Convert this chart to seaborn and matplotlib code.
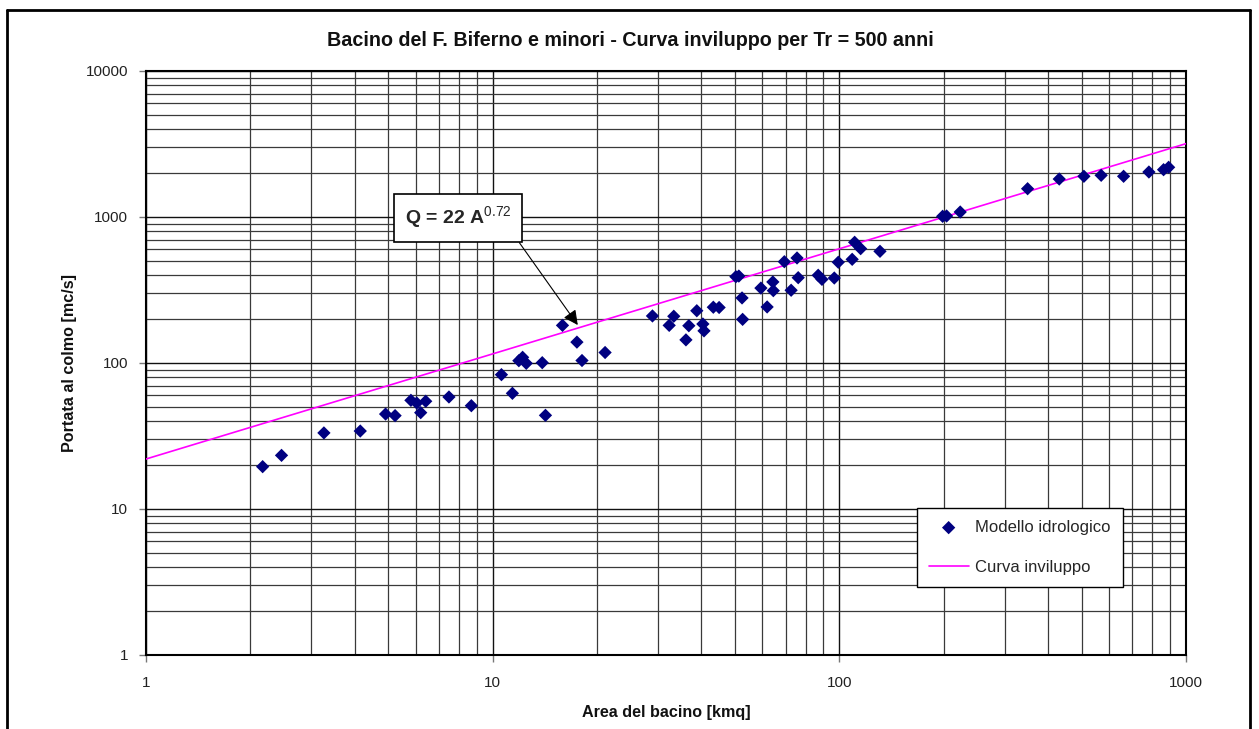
import numpy as np
import pandas as pd
import matplotlib
matplotlib.use("Agg")
import matplotlib.pyplot as plt
from matplotlib.lines import Line2D
from matplotlib.ticker import LogLocator, FixedLocator, FixedFormatter, NullFormatter
import seaborn as sns

# Basin areas [kmq] and simulated peak discharges [mc/s]
area = [2.17, 2.46, 3.26, 4.15, 4.91, 5.23, 5.81, 6.04, 6.20, 6.41, 7.48, 8.68,
        10.6, 11.4, 11.9, 12.2, 12.5, 13.9, 14.2, 15.9, 17.5, 18.1, 21.1,
        28.9, 32.3, 33.3, 36.1, 36.8, 38.8, 40.4, 40.7, 43.3, 45.0, 50.3, 51.3,
        52.4, 52.6, 59.4, 61.9, 64.3, 64.5, 69.4, 72.6, 75.5, 76.1, 86.9, 89.1,
        96.7, 99.3, 108.9, 110.7, 115.2, 131.0,
        198.6, 203.9, 223.2, 349.2, 430.9, 507.6, 569.2, 660.7, 781.6, 861.6, 891.1]
discharge = [19.5, 23.3, 33.2, 34.2, 44.7, 43.6, 55.5, 53.2, 45.7, 54.7, 58.5, 51.0,
             83.2, 62.0, 103.7, 109.4, 99.5, 100.5, 43.8, 181, 139, 104, 118,
             210, 181, 209, 144, 180, 228, 185, 166, 241, 240, 390, 394,
             279, 199, 326, 242, 359, 313, 494, 315, 524, 384, 399, 374,
             382, 490, 513, 671, 607, 582,
             1011, 1016, 1082, 1562, 1820, 1900, 1930, 1900, 2033, 2109, 2190]

# Envelope curve Q = 22 A^0.72
env_coef = 22
env_exp = 0.72
env_area = [1, 1000]

x_ticks = [1, 10, 100, 1000]
x_ticklabels = ["1", "10", "100", "1000"]
y_ticks = [1, 10, 100, 1000, 10000]
y_ticklabels = ["1", "10", "100", "1000", "10000"]

sns.set_theme(style="white")
plt.rcParams["font.family"] = ["Liberation Sans", "DejaVu Sans"]
plt.rcParams["mathtext.fontset"] = "custom"
plt.rcParams["mathtext.rm"] = "Liberation Sans"
plt.rcParams["mathtext.bf"] = "Liberation Sans:bold"

fig = plt.figure(figsize=(12.59, 7.29), dpi=100)
ax = fig.add_axes([146 / 1259, 1 - 655 / 729, 1040 / 1259, 584 / 729])

pts = pd.DataFrame({"area": area, "Q": discharge})
env = pd.DataFrame({"area": env_area,
                    "Q": [env_coef * a ** env_exp for a in env_area]})

ax.set_xscale("log")
ax.set_yscale("log")
ax.set_xlim(1, 1000)
ax.set_ylim(1, 10000)

# logarithmic grid, decades and sub-decades
ax.xaxis.set_minor_locator(LogLocator(base=10, subs=np.arange(2, 10)))
ax.yaxis.set_minor_locator(LogLocator(base=10, subs=np.arange(2, 10)))
ax.xaxis.set_minor_formatter(NullFormatter())
ax.yaxis.set_minor_formatter(NullFormatter())
ax.grid(True, which="major", color="#111111", lw=1.0)
ax.grid(True, which="minor", color="#3a3a3a", lw=0.9)
ax.set_axisbelow(True)

sns.lineplot(data=env, x="area", y="Q", ax=ax, color="#FF00FF", lw=1.2,
             label="Curva inviluppo", zorder=3)
sns.scatterplot(data=pts, x="area", y="Q", ax=ax, marker="D", s=46,
                color="#000080", edgecolor="none", label="Modello idrologico",
                zorder=4)

ax.xaxis.set_major_locator(FixedLocator(x_ticks))
ax.xaxis.set_major_formatter(FixedFormatter(x_ticklabels))
ax.yaxis.set_major_locator(FixedLocator(y_ticks))
ax.yaxis.set_major_formatter(FixedFormatter(y_ticklabels))
ax.tick_params(axis="both", which="major", length=5, width=1, color="#777777",
               labelsize=11, labelcolor="#222222", direction="out", pad=8)
ax.tick_params(axis="x", which="major", pad=10)
ax.tick_params(axis="both", which="minor", length=0)
ax.tick_params(bottom=True, left=True)

for s in ax.spines.values():
    s.set_visible(True)
    s.set_color("black")
    s.set_linewidth(1.5)

ax.set_xlabel("Area del bacino [kmq]", fontsize=11.6, fontweight="bold",
              color="#111111", labelpad=11)
ax.set_ylabel("Portata al colmo [mc/s]", fontsize=11.6, fontweight="bold",
              color="#111111", labelpad=6)
fig.text(630 / 1259, 1 - 41 / 729,
         "Bacino del F. Biferno e minori - Curva inviluppo per Tr = 500 anni",
         ha="center", va="center", fontsize=14.2, fontweight="bold", color="#111111")

# legend: scatter first, then the envelope line
handles, labels = ax.get_legend_handles_labels()
order = [labels.index("Modello idrologico"), labels.index("Curva inviluppo")]
leg = ax.legend([handles[i] for i in order], [labels[i] for i in order],
                loc="upper left", bbox_to_anchor=(0.741, 0.2517), fontsize=12,
                frameon=True, fancybox=False, shadow=False, framealpha=1,
                edgecolor="black", borderpad=0.72, labelspacing=1.48,
                handlelength=2.4, handletextpad=0.4, borderaxespad=0)
leg.get_frame().set_linewidth(1.0)

# formula box with arrow to the envelope line
ax.annotate(r"Q = 22 A$^{0.72}$",
            xy=(17.6, 182), xytext=(7.95, 984), textcoords="data",
            ha="center", va="center", fontsize=14, fontweight="bold",
            bbox=dict(boxstyle="square,pad=0.55", fc="white", ec="black", lw=1.2),
            arrowprops=dict(arrowstyle="-|>", color="black", lw=0.8,
                            mutation_scale=22, relpos=(1, 0),
                            shrinkA=0, shrinkB=0),
            zorder=6)

# page frame
fig.add_artist(Line2D([7 / 1259, 7 / 1259], [0, 1 - 10 / 729], color="black", lw=2))
fig.add_artist(Line2D([7 / 1259, 1250 / 1259], [1 - 10 / 729, 1 - 10 / 729],
                      color="black", lw=2))
fig.add_artist(Line2D([1250 / 1259, 1250 / 1259], [0, 1 - 10 / 729],
                      color="black", lw=2))

fig.savefig("out.png", dpi=100, facecolor="white")
